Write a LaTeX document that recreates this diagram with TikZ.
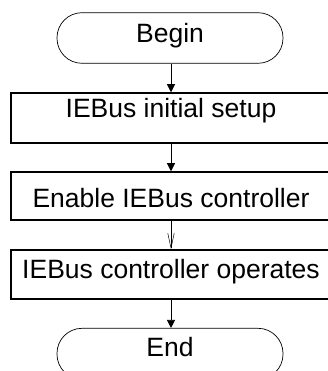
\documentclass[tikz,border=0pt]{standalone}
\usepackage{fontspec}
\setmainfont{Liberation Sans}
\usetikzlibrary{arrows.meta}
\begin{document}
\begin{tikzpicture}[
  txt/.style={font=\fontsize{26.5}{30}\selectfont, inner xsep=0pt, inner ysep=0pt, anchor=base},
  term/.style={txt, draw, line width=0.7pt, minimum width=226pt, rounded corners=25pt},
  procbox/.style={txt, draw, line width=1.5pt, minimum width=320pt},
  conn/.style={line width=0.7pt, -{Triangle[width=8pt,length=8pt]}},
  thinconn/.style={line width=0.5pt, -{Straight Barb[length=15pt,width=6.5pt,line width=0.5pt]}}
]
\useasboundingbox (0,0) rectangle (328pt,-371pt);
\clip (0,0) rectangle (328pt,-371pt);
\node[term, text height=29.8pt, text depth=20.8pt] (begin) at (170pt,-42.5pt) {Begin};
\node[procbox, text height=25pt, text depth=25pt] (setup) at (171pt,-118pt) {IEBus initial setup};
\node[procbox, text height=35.7pt, text depth=12.3pt] (enable) at (171pt,-207.7pt) {Enable IEBus controller};
\node[procbox, text height=28pt, text depth=21pt] (oper) at (171pt,-278pt) {IEBus controller operates};
\node[term, text height=28.4pt, text depth=22.6pt] (end) at (170pt,-356.7pt) {End};
\draw[conn] (begin.south -| 171pt,0) -- (setup.north -| 171pt,0);
\draw[conn] (setup.south -| 171pt,0) -- (enable.north -| 171pt,0);
\draw[thinconn] (enable.south -| 171pt,0) -- (oper.north -| 171pt,0);
\draw[conn] (oper.south -| 171pt,0) -- (end.north -| 171pt,0);
\end{tikzpicture}
\end{document}
